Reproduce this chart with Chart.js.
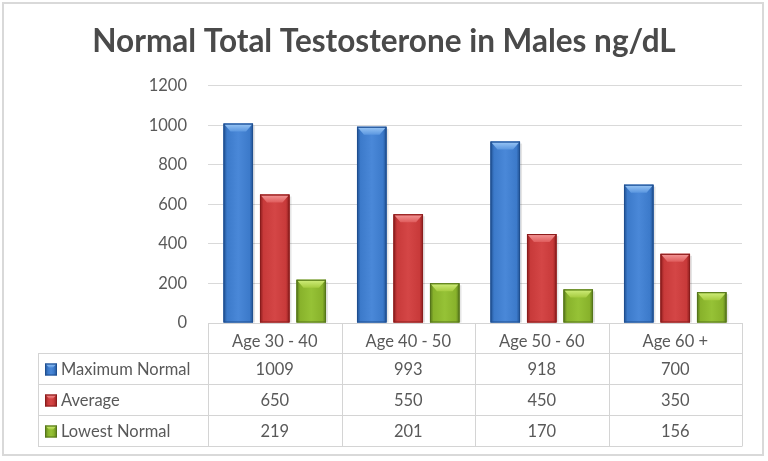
<!DOCTYPE html>
<html>
<head>
<meta charset="utf-8">
<script src="https://cdn.jsdelivr.net/npm/chart.js@4/dist/chart.umd.min.js"></script>
<style>
  html, body { margin: 0; padding: 0; background: #ffffff; }
  #wrap { width: 768px; height: 461px; }
</style>
</head>
<body>
<div id="wrap"><canvas id="c" width="768" height="461"></canvas></div>
<script>
const categories = ['Age 30 - 40', 'Age 40 - 50', 'Age 50 - 60', 'Age 60 +'];
const seriesNames = ['Maximum Normal', 'Average', 'Lowest Normal'];
const maxNormal = [1009, 993, 918, 700];
const average = [650, 550, 450, 350];
const lowestNormal = [219, 201, 170, 156];
const yMin = 0, yMax = 1200, yStep = 200;
const chartTitle = 'Normal Total Testosterone in Males ng/dL';

const palettes = [
  { edge: '#1f4f90', main: '#3c7aca', mid: '#4a88d8', bevelTop: '#9cc8f6', bevelBot: '#5b97e0' },
  { edge: '#8a1c1c', main: '#c83a3a', mid: '#d44646', bevelTop: '#f59a9a', bevelBot: '#df5c5c' },
  { edge: '#55751b', main: '#88b22b', mid: '#96c236', bevelTop: '#d2ef7e', bevelBot: '#a6cc40' }
];

const FONT = 'Lato, "Open Sans", sans-serif';
const TEXT = '#595959';
const LINE = '#d4d4d4';

function fillBarGradient(ctx, l, r, top, bot, p) {
  const g = ctx.createLinearGradient(l, 0, r, 0);
  g.addColorStop(0, p.edge);
  g.addColorStop(0.12, p.main);
  g.addColorStop(0.5, p.mid);
  g.addColorStop(0.88, p.main);
  g.addColorStop(1, p.edge);
  ctx.fillStyle = g;
  ctx.fillRect(l, top, r - l, bot - top);
}

function drawBevel(ctx, l, r, top, p, h) {
  const g = ctx.createLinearGradient(0, top, 0, top + h);
  g.addColorStop(0, p.bevelTop);
  g.addColorStop(1, p.bevelBot);
  ctx.fillStyle = g;
  const inset = Math.min(6, (r - l) / 4);
  ctx.beginPath();
  ctx.moveTo(l + 1, top + 1);
  ctx.lineTo(r - 1, top + 1);
  ctx.lineTo(r - 1 - inset, top + h);
  ctx.lineTo(l + 1 + inset, top + h);
  ctx.closePath();
  ctx.fill();
}

const barStyler = {
  id: 'barStyler',
  beforeDraw(chart) {
    const ctx = chart.ctx;
    ctx.save();
    ctx.fillStyle = '#ffffff';
    ctx.fillRect(0, 0, chart.width, chart.height);
    ctx.strokeStyle = '#d9d9d9';
    ctx.lineWidth = 2;
    ctx.strokeRect(3, 3, 760, 452);
    ctx.restore();
  },
  beforeDatasetsDraw(chart) {
    const ctx = chart.ctx;
    ctx.save();
    chart.data.datasets.forEach((ds, i) => {
      chart.getDatasetMeta(i).data.forEach(bar => {
        const { x, y, base, width } = bar.getProps(['x', 'y', 'base', 'width'], true);
        ctx.fillStyle = 'rgba(0,0,0,0.10)';
        ctx.fillRect(x - width / 2 + 2, y + 2, width, base - y - 2);
      });
    });
    ctx.restore();
  },
  afterDatasetsDraw(chart) {
    const ctx = chart.ctx;
    ctx.save();
    chart.data.datasets.forEach((ds, i) => {
      const p = palettes[i];
      chart.getDatasetMeta(i).data.forEach(bar => {
        const { x, y, base, width } = bar.getProps(['x', 'y', 'base', 'width'], true);
        const l = x - width / 2, r = x + width / 2;
        fillBarGradient(ctx, l, r, y, base, p);
        drawBevel(ctx, l, r, y, p, Math.min(8, (base - y) / 2));
        ctx.strokeStyle = p.edge;
        ctx.lineWidth = 1;
        ctx.strokeRect(l + 0.5, y + 0.5, width - 1, base - y - 1);
      });
    });
    ctx.restore();
  },
  afterDraw(chart) {
    const ctx = chart.ctx;
    const xs = chart.scales.x;
    const area = chart.chartArea;
    const n = categories.length;
    const band = (xs.right - xs.left) / n;
    const tableLeft = 38;
    const headTop = area.bottom;
    const headBot = xs.bottom;
    const rowH = 31;
    const rows = [maxNormal, average, lowestNormal];
    const tableBot = headBot + rowH * rows.length;
    ctx.save();
    ctx.strokeStyle = LINE;
    ctx.lineWidth = 1;
    ctx.beginPath();
    ctx.moveTo(xs.left, headTop + 0.5); ctx.lineTo(xs.right, headTop + 0.5);
    for (let k = 0; k <= rows.length; k++) {
      const yy = Math.round(headBot + k * rowH) + 0.5;
      ctx.moveTo(tableLeft, yy); ctx.lineTo(xs.right, yy);
    }
    ctx.moveTo(tableLeft + 0.5, headBot); ctx.lineTo(tableLeft + 0.5, tableBot + 0.5);
    for (let c = 0; c <= n; c++) {
      const xx = Math.round(xs.left + c * band) + 0.5;
      ctx.moveTo(xx, headTop); ctx.lineTo(xx, tableBot + 0.5);
    }
    ctx.stroke();

    ctx.font = '16.5px ' + FONT;
    ctx.fillStyle = TEXT;
    ctx.textBaseline = 'middle';
    rows.forEach((vals, r) => {
      const cy = headBot + r * rowH + rowH / 2 + 1;
      const p = palettes[r];
      const kx = 45, ky = cy - 6, ks = 12;
      const g = ctx.createLinearGradient(kx, 0, kx + ks, 0);
      g.addColorStop(0, p.edge); g.addColorStop(0.25, p.main); g.addColorStop(0.5, p.mid);
      g.addColorStop(0.75, p.main); g.addColorStop(1, p.edge);
      ctx.fillStyle = g;
      ctx.fillRect(kx, ky, ks, ks);
      const bg = ctx.createLinearGradient(0, ky, 0, ky + 4);
      bg.addColorStop(0, p.bevelTop); bg.addColorStop(1, p.bevelBot);
      ctx.fillStyle = bg;
      ctx.beginPath();
      ctx.moveTo(kx + 1, ky + 1); ctx.lineTo(kx + ks - 1, ky + 1);
      ctx.lineTo(kx + ks - 4, ky + 4); ctx.lineTo(kx + 4, ky + 4); ctx.closePath(); ctx.fill();
      ctx.strokeStyle = p.edge;
      ctx.strokeRect(kx + 0.5, ky + 0.5, ks - 1, ks - 1);
      ctx.fillStyle = TEXT;
      ctx.textAlign = 'left';
      ctx.fillText(seriesNames[r], 61, cy);
      ctx.textAlign = 'center';
      vals.forEach((v, c) => {
        ctx.fillText(String(v), xs.getPixelForValue(c), cy);
      });
    });
    ctx.restore();
  }
};

new Chart(document.getElementById('c'), {
  type: 'bar',
  data: {
    labels: categories,
    datasets: [
      { label: seriesNames[0], data: maxNormal, backgroundColor: palettes[0].main },
      { label: seriesNames[1], data: average, backgroundColor: palettes[1].main },
      { label: seriesNames[2], data: lowestNormal, backgroundColor: palettes[2].main }
    ].map(d => Object.assign(d, { categoryPercentage: 0.82, barPercentage: 0.81, borderWidth: 0 }))
  },
  options: {
    responsive: false,
    animation: false,
    devicePixelRatio: 1,
    layout: { padding: { top: 0, right: 26, bottom: 108, left: 26 } },
    plugins: {
      legend: { display: false },
      tooltip: { enabled: false },
      title: {
        display: true,
        text: chartTitle,
        color: '#4a4a4a',
        font: { family: FONT, size: 31.5, weight: 'bold' },
        padding: { top: 23, bottom: 25 }
      }
    },
    scales: {
      x: {
        grid: { display: false },
        border: { display: true, color: LINE },
        ticks: { color: TEXT, font: { family: FONT, size: 16.5 }, padding: 1, maxRotation: 0 },
        afterFit(s) { s.height = 30; }
      },
      y: {
        min: yMin, max: yMax,
        ticks: { stepSize: yStep, color: TEXT, font: { family: FONT, size: 16.5 }, padding: 21,
                 callback: v => String(v) },
        grid: { color: '#d9d9d9', drawTicks: false },
        border: { display: false },
        afterFit(s) { s.width = 182; }
      }
    }
  },
  plugins: [barStyler]
});
</script>
</body>
</html>
